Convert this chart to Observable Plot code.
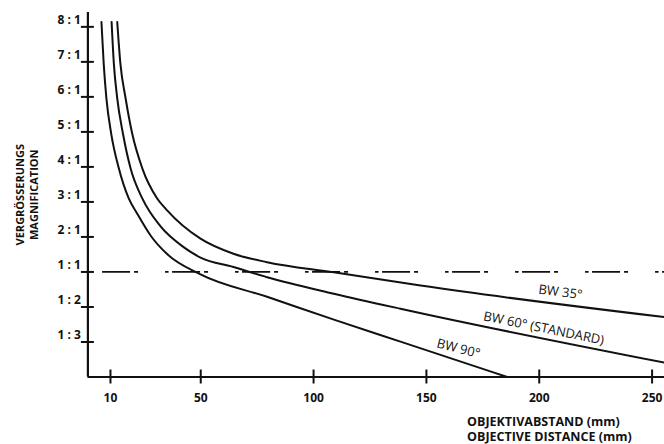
<!DOCTYPE html>
<html>
<head>
<meta charset="utf-8">
<script src="https://cdn.jsdelivr.net/npm/d3@7"></script>
<script src="https://cdn.jsdelivr.net/npm/@observablehq/plot@0.6"></script>
<style>
  html, body { margin: 0; padding: 0; background: #fff; }
  svg { display: block; }
</style>
</head>
<body>
<div id="chart"></div>
<script>
// Y positions are ordinal steps: 1 = 1:3, 2 = 1:2, 3 = 1:1, 4 = 2:1 ... 10 = 8:1
const yTickValues = [1, 2, 3, 4, 5, 6, 7, 8, 9, 10];
const yTickLabels = ["1 : 3", "1 : 2", "1 : 1", "2 : 1", "3 : 1", "4 : 1", "5 : 1", "6 : 1", "7 : 1", "8 : 1"];
const xTickValues = [10, 50, 100, 150, 200, 250];

// BW 90°
const bw90Dist = [6.0, 7.0, 8.2, 10.3, 13.7, 18.1, 21.8, 28.0, 35.1, 49.9, 79.4, 109, 138.5, 185.8];
const bw90Mag  = [10.14, 8.95, 7.96, 6.96, 5.96, 5.10, 4.67, 4.02, 3.51, 2.93, 2.29, 1.64, 1.01, 0];
// BW 60° (STANDARD)
const bw60Dist = [10.5, 11.5, 13.0, 15.5, 18.9, 24.1, 32.2, 42.4, 49.9, 64.5, 79.4, 109, 138.5, 255.5];
const bw60Mag  = [10.14, 8.95, 7.96, 6.96, 5.96, 5.10, 4.30, 3.71, 3.41, 3.14, 2.85, 2.38, 1.95, 0.41];
// BW 35°
const bw35Dist = [13.0, 14.4, 16.7, 19.6, 24.1, 30.7, 35.1, 49.9, 64.5, 79.4, 109, 147.4, 255.5];
const bw35Mag  = [10.14, 8.95, 7.96, 6.96, 5.96, 5.10, 4.76, 3.95, 3.52, 3.28, 2.99, 2.61, 1.71];

const curveNames = ["BW 90°", "BW 60° (STANDARD)", "BW 35°"];
const labelDist  = [164.2, 202, 209.4];
const labelMag   = [0.81, 1.39, 2.42];
const labelAngle = [14, 11.5, 7.5];

const refMag = 3;           // 1:1 line
const refStart = 6.5;
const xMax = 255.5;
const yMax = 10.41;

const toRows = (name, xs, ys) => xs.map((x, i) => ({name, x, y: ys[i]}));
const curves = [
  ...toRows(curveNames[0], bw90Dist, bw90Mag),
  ...toRows(curveNames[1], bw60Dist, bw60Mag),
  ...toRows(curveNames[2], bw35Dist, bw35Mag)
];
const labels = curveNames.map((name, i) => ({name, x: labelDist[i], y: labelMag[i], r: labelAngle[i]}));
const yTicks = yTickValues.map((v, i) => ({v, label: yTickLabels[i]}));

const font = "'Open Sans', 'Noto Sans', sans-serif";

const chart = Plot.plot({
  width: 664,
  height: 444,
  marginLeft: 87.4,
  marginRight: 0,
  marginTop: 12,
  marginBottom: 67.5,
  style: {fontFamily: font, fontSize: "12px", color: "#111", background: "#fff", overflow: "visible"},
  x: {domain: [0, xMax], axis: null},
  y: {domain: [0, yMax], axis: null},
  marks: [
    // reference 1:1 line
    Plot.ruleY([refMag], {x1: refStart, x2: xMax, stroke: "#111", strokeWidth: 1.8, strokeDasharray: "28,4,4,27,3.5,3.5"}),
    // axes lines
    Plot.ruleX([0], {stroke: "#111", strokeWidth: 2.2}),
    Plot.ruleY([0], {stroke: "#111", strokeWidth: 2.2}),
    // y ticks crossing axis
    Plot.axisY(yTickValues, {tickSize: 13, dx: 6.5, tickFormat: () => "", label: null, stroke: "#111", strokeWidth: 2}),
    // y tick labels sitting on the ticks
    Plot.text(yTicks, {x: 0, y: "v", text: "label", textAnchor: "end", dx: -7, dy: -7, fontSize: 12, fontWeight: 700, fill: "#111"}),
    // x ticks crossing axis
    Plot.axisX(xTickValues, {tickSize: 14, dy: -7, tickFormat: () => "", label: null, stroke: "#111", strokeWidth: 2}),
    Plot.text(xTickValues, {x: (d) => d, y: 0, text: (d) => String(d), dy: 21, fontSize: 12, fontWeight: 700, fill: "#111"}),
    // curves
    Plot.line(curves, {x: "x", y: "y", z: "name", curve: "monotone-x", stroke: "#111", strokeWidth: 2}),
    // curve labels
    Plot.text(labels, {x: "x", y: "y", text: "name", rotate: "r", fontSize: 13, fontWeight: 500, fill: "#111"}),
    // axis titles
    Plot.text(["VERGRÖSSERUNGS\nMAGNIFICATION"], {frameAnchor: "left", textAnchor: "middle", dx: -61.4, rotate: -90, fontSize: 11, fontWeight: 700, lineHeight: 1.3, fill: "#111"}),
    Plot.text(["OBJEKTIVABSTAND (mm)\nOBJECTIVE DISTANCE (mm)"], {x: 168, frameAnchor: "bottom", textAnchor: "start", lineAnchor: "top", dy: 37.5, fontSize: 12.5, fontWeight: 700, lineHeight: 1.25, fill: "#111"})
  ]
});
document.getElementById("chart").appendChild(chart);
</script>
</body>
</html>
